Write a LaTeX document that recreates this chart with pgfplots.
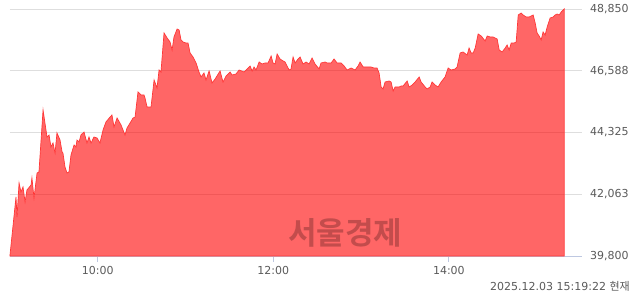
\documentclass[border=0pt]{standalone}
\usepackage{fontspec}
\setmainfont{DejaVu Sans}
\newfontfamily\krfont{Noto Sans CJK KR}
\newfontfamily\krbold{Noto Sans CJK KR Bold}
\usepackage{pgfplots}
\usepackage{pgfplotstable}
\pgfplotsset{compat=1.18}
\definecolor{fillred}{RGB}{255,0,0}
\definecolor{linered}{RGB}{255,55,55}
\definecolor{gridc}{RGB}{222,222,222}
\definecolor{axisc}{RGB}{190,200,225}
\definecolor{labc}{RGB}{90,90,90}
\definecolor{wmark}{RGB}{185,72,72}
\pgfplotstableread{
m v
0 39837
4.1 41962
4.8 41229
6.2 42475
7.5 42145
8.9 42328
10.3 41779
11.6 42218
14.4 42401
15.0 42658
16.4 41925
18.5 42841
19.8 42878
22.6 45149
23.9 44673
25.3 44160
26.7 44233
28.0 43794
29.4 43940
30.8 43574
32.1 44307
34.2 44050
35.6 43611
36.2 43574
37.6 43061
39.0 42841
40.3 42878
41.7 43501
43.8 43867
45.1 43794
45.8 44050
47.2 43977
48.5 44233
50.6 44343
52.6 43940
54.0 44160
55.4 43940
57.4 44160
59.5 44124
61.5 43940
63.6 44417
65.6 44710
68.4 44893
69.7 44966
71.1 44527
73.2 44856
75.9 44600
78.6 44233
80.0 44490
82.1 44673
84.1 44856
85.5 44893
87.5 45809
89.6 45699
91.6 45699
92.3 45589
93.7 45259
96.4 45259
98.5 46249
100.5 45956
101.9 46615
103.2 46542
105.3 47971
107.4 47788
109.4 47641
110.8 47348
112.1 47824
114.2 48117
115.6 48081
116.9 47714
118.3 47641
120.3 47604
121.7 47604
123.1 47238
125.1 47091
127.2 46872
129.2 46542
130.6 46359
132.6 46505
134.0 46249
136.1 46578
138.1 46139
140.2 46285
143.6 46578
145.6 46175
147.7 46395
150.4 46542
151.8 46432
154.5 46468
156.6 46615
160.0 46542
162.1 46652
164.1 46762
165.5 46578
166.8 46725
168.2 46615
170.3 46908
172.3 46835
174.4 46872
176.4 46872
178.5 47128
179.8 46872
181.2 46835
182.6 47201
184.6 47018
186.7 46945
188.0 46908
190.8 46615
192.1 46652
193.5 47091
194.9 46872
196.9 47018
198.3 47091
200.3 46835
202.4 46908
204.4 46835
206.5 47055
208.5 46835
211.3 46652
212.6 46872
215.4 46908
216.8 46872
219.5 46872
221.5 47018
223.6 46872
226.3 46872
228.4 46762
230.4 46615
233.2 46688
235.9 46615
237.9 46762
239.3 46908
241.4 46725
244.1 46725
246.8 46725
248.9 46688
250.9 46688
252.3 46505
253.7 45992
255.0 45919
256.4 46175
259.1 46212
260.5 46175
261.9 45846
263.2 45992
266.0 45992
267.4 46029
268.7 46029
271.5 46212
272.8 45992
274.9 46065
276.9 46175
279.7 46359
281.0 46175
283.8 45992
285.1 45919
287.2 45992
288.5 46175
290.6 46065
292.6 45992
294.7 46175
297.4 46359
299.5 46688
301.5 46615
304.3 46652
305.6 46725
307.7 47238
309.7 47275
312.5 47164
313.8 47421
315.2 47238
316.6 47238
318.0 47421
320.0 47934
322.1 47861
324.8 47678
326.2 47861
328.2 47824
330.3 47824
333.0 47751
334.4 47348
336.4 47275
338.5 47421
339.8 47531
341.2 47348
342.6 47604
344.6 47604
346.0 47641
347.4 48630
349.4 48704
350.8 48630
352.8 48557
354.9 48557
357.6 48630
359.0 48337
360.3 47971
361.7 47861
363.1 47714
364.4 48007
365.8 47897
367.2 48191
369.2 48520
371.3 48557
372.6 48630
374.0 48667
375.4 48630
376.8 48740
378.1 48813
378.8 48850
}\pricedata
\begin{document}
\begin{tikzpicture}
\useasboundingbox (-10bp,-38bp) rectangle (630bp,256bp);
\begin{axis}[
  scale only axis,
  width=572bp, height=247bp,
  xmin=0, xmax=391,
  ymin=39800, ymax=48850,
  axis x line*=bottom,
  axis y line=none,
  x axis line style={draw=axisc, line width=0.8pt, -},
  xtick={60,180,300},
  xticklabels={10:00,12:00,14:00},
  xtick style={draw=axisc, line width=0.8pt},
  major tick length=6bp,
  xtick pos=bottom,
  tick align=outside,
  x tick label style={font=\fontsize{11bp}{13bp}\selectfont, text=labc, yshift=-1bp},
  ytick=\empty,
  clip=false,
]
\foreach \yv in {42063,44325,46588,48850} {
  \edef\tmp{\noexpand\draw[gridc, line width=0.8pt] (axis cs:0,\yv) -- (axis cs:391,\yv);}
  \tmp
}
\foreach \yv/\lab in {39800/{39,800},42063/{42,063},44325/{44,325},46588/{46,588},48850/{48,850}} {
  \edef\tmp{\noexpand\node[anchor=west, font=\noexpand\fontsize{11bp}{13bp}\noexpand\selectfont, text=labc, inner sep=0pt] at (axis cs:391,\yv) [xshift=8bp] {\lab};}
  \tmp
}
\addplot[draw=linered, line width=0.7pt, fill=fillred, fill opacity=0.6] table[x=m, y=v] {\pricedata} \closedcycle;
\node[font=\krbold\fontsize{31bp}{33bp}\selectfont, text=wmark, opacity=0.85] at (rel axis cs:0.586,0.092) {서울경제};
\node[anchor=east, font=\fontsize{11bp}{13bp}\selectfont, text=labc, inner sep=0pt] at (rel axis cs:1,0) [xshift=48bp, yshift=-30bp] {2025.12.03 15:19:22 {\krfont 현재}};
\end{axis}
\end{tikzpicture}
\end{document}
